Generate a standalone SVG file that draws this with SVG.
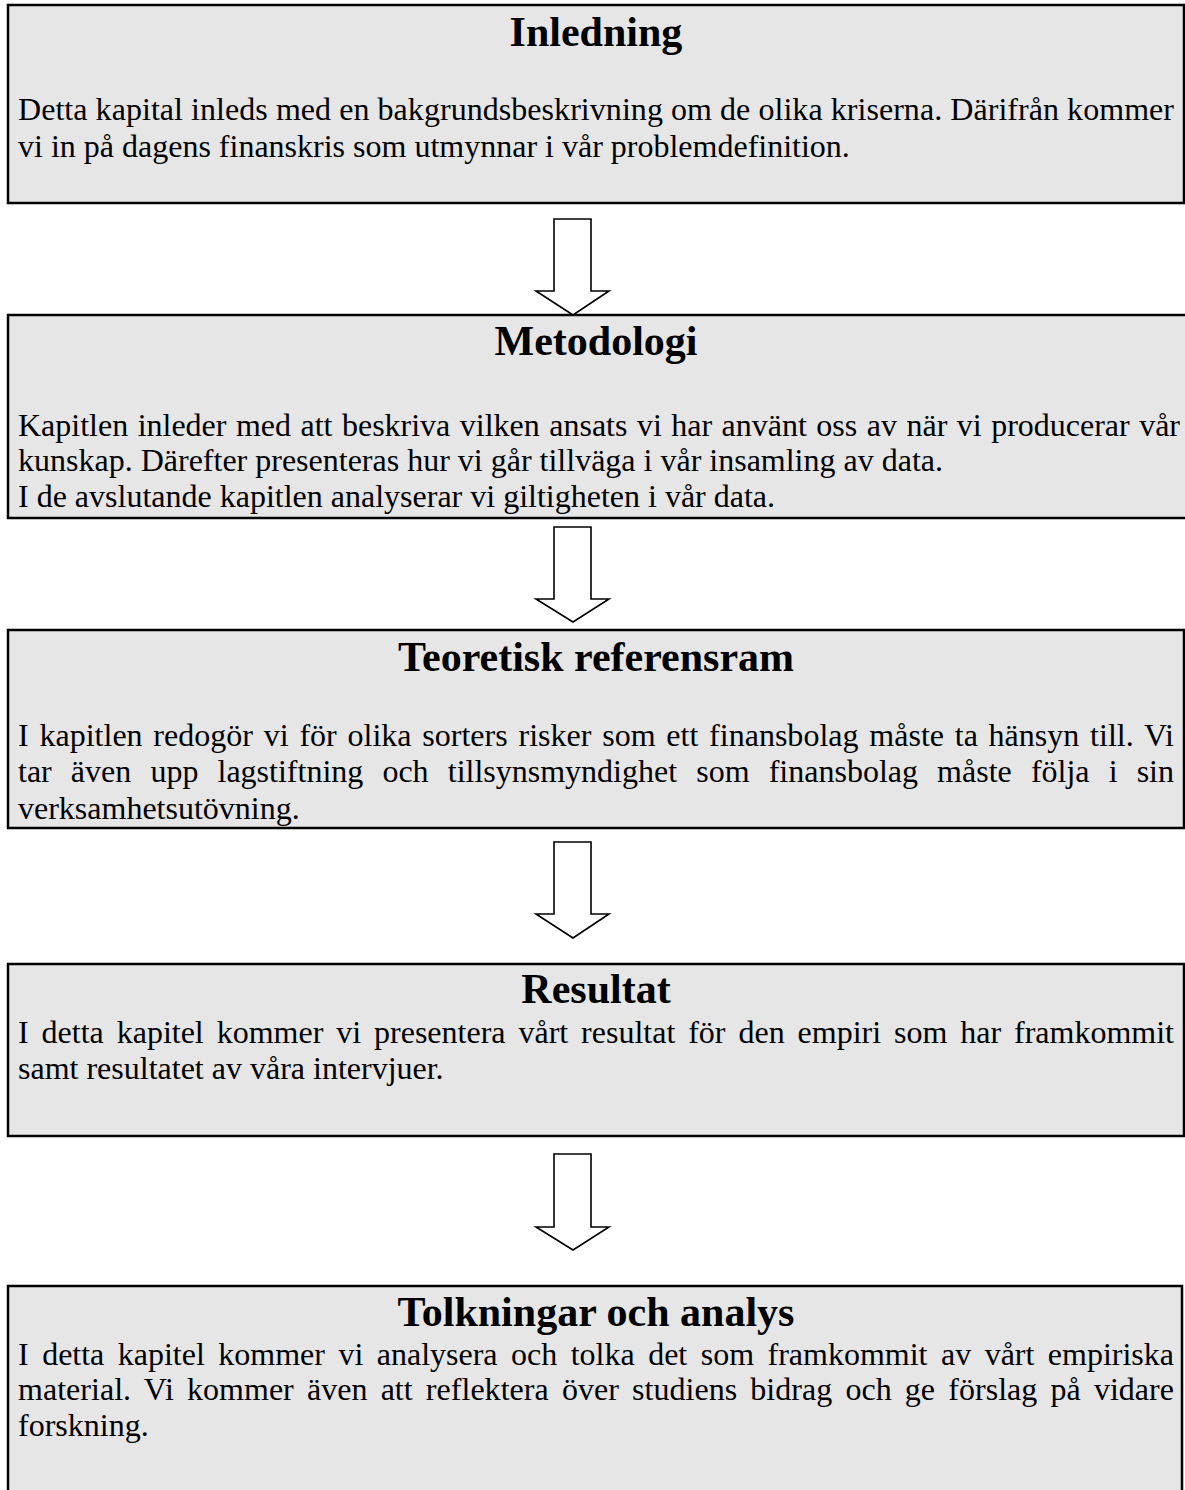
<svg xmlns="http://www.w3.org/2000/svg" width="1185" height="1490" viewBox="0 0 1185 1490">
<style>
.box{fill:#e6e6e6;stroke:#000;stroke-width:2.5}
.title{font-family:"Liberation Serif","Times New Roman",serif;font-weight:bold;font-size:42px;fill:#000;text-anchor:middle}
.body{font-family:"Liberation Serif","Times New Roman",serif;font-size:32px;fill:#000}
.arrow{fill:#fff;stroke:#000;stroke-width:1.6;stroke-linejoin:miter}
</style>
<rect width="1185" height="1490" fill="#fff"/>
<g id="inledning">
<rect class="box" x="8" y="5" width="1176" height="198"/>
<text class="title" x="596" y="46">Inledning</text>
<text class="body" x="18" y="120" textLength="1156" lengthAdjust="spacing">Detta kapital inleds med en bakgrundsbeskrivning om de olika kriserna. Därifrån kommer</text>
<text class="body" x="18" y="157">vi in på dagens finanskris som utmynnar i vår problemdefinition.</text>
</g>
<g id="metodologi">
<rect class="box" x="8" y="315" width="1184" height="203"/>
<text class="title" x="596" y="355">Metodologi</text>
<text class="body" x="18" y="436" word-spacing="1.5" textLength="1162" lengthAdjust="spacing">Kapitlen inleder med att beskriva vilken ansats vi har använt oss av när vi producerar vår</text>
<text class="body" x="18" y="471">kunskap. Därefter presenteras hur vi går tillväga i vår insamling av data.</text>
<text class="body" x="18" y="507">I de avslutande kapitlen analyserar vi giltigheten i vår data.</text>
</g>
<g id="teoretisk">
<rect class="box" x="8" y="630" width="1176" height="198"/>
<text class="title" x="596" y="671">Teoretisk referensram</text>
<text class="body" x="18" y="746" word-spacing="2.7" textLength="1156" lengthAdjust="spacing">I kapitlen redogör vi för olika sorters risker som ett finansbolag måste ta hänsyn till. Vi</text>
<text class="body" x="18" y="782" word-spacing="11.1" textLength="1156" lengthAdjust="spacing">tar även upp lagstiftning och tillsynsmyndighet som finansbolag måste följa i sin</text>
<text class="body" x="18" y="819">verksamhetsutövning.</text>
</g>
<g id="resultat">
<rect class="box" x="8" y="964" width="1176" height="172"/>
<text class="title" x="596" y="1003">Resultat</text>
<text class="body" x="18" y="1043" word-spacing="4.9" textLength="1156" lengthAdjust="spacing">I detta kapitel kommer vi presentera vårt resultat för den empiri som har framkommit</text>
<text class="body" x="18" y="1079">samt resultatet av våra intervjuer.</text>
</g>
<g id="tolkningar">
<rect class="box" x="8" y="1286" width="1174" height="220"/>
<text class="title" x="596" y="1326">Tolkningar och analys</text>
<text class="body" x="18" y="1365" word-spacing="5.5" textLength="1156" lengthAdjust="spacing">I detta kapitel kommer vi analysera och tolka det som framkommit av vårt empiriska</text>
<text class="body" x="18" y="1400" word-spacing="5.1" textLength="1156" lengthAdjust="spacing">material. Vi kommer även att reflektera över studiens bidrag och ge förslag på vidare</text>
<text class="body" x="18" y="1436">forskning.</text>
</g>
<g id="connectors">
<polygon class="arrow" points="554,219 591,219 591,291 609,291 573,315 536,291 554,291"/>
<polygon class="arrow" points="554,527 591,527 591,599 609,599 573,622 536,599 554,599"/>
<polygon class="arrow" points="554,842 591,842 591,914 609,914 573,938 536,914 554,914"/>
<polygon class="arrow" points="554,1154 591,1154 591,1227 609,1227 573,1250 536,1227 554,1227"/>
</g>
</svg>
